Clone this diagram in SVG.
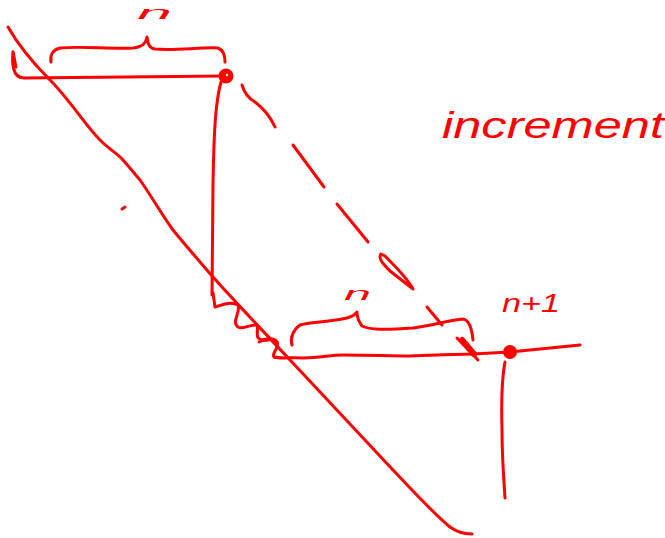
<svg xmlns="http://www.w3.org/2000/svg" width="665" height="538" viewBox="0 0 665 538">
<style>
.s{fill:none;stroke:#ff0000;stroke-width:3;stroke-linecap:round;stroke-linejoin:round}
.d{fill:#ff0000;stroke:none}
.t{fill:#ff0000;font-family:"Liberation Sans",Arial,sans-serif;font-style:italic}
</style>
<rect width="665" height="538" fill="#ffffff"/>
<g id="diagonal">
<path class="s" d="M8,27 C20,48 35,65 50,80 C70,100 85,125 100,140 C110,150 118,154 123,160 C130,168 135,174 140,180 C152,197 162,215 173,230 C186,246 200,262 213,277 C238,305 265,333 290,360 C325,397 360,435 393,470 C415,493 435,515 450,527 C458,533 465,534 472,534"/>
<path class="s" d="M122,209 L125,207"/>
</g>
<g id="top-segment">
<path class="s" d="M16,67 C14,58 13,50 13,52 C12,62 12,78 24,78 L224,76"/>
<circle class="d" cx="226" cy="76" r="7.5"/>
<circle cx="227" cy="75" r="1.2" fill="#ffffff"/>
<path class="s" d="M221,82 C216,100 214,125 213,185 L212,295"/>
<path class="s" d="M51,62 C50,56 52,50 60,48 C80,46 110,49 133,48 C142,47 146,44 147,37 C148,44 149,48 155,49 C175,51 200,47 218,48 C223,50 225,56 225,62"/>
<text class="t" x="137" y="19" font-size="18" textLength="35" lengthAdjust="spacingAndGlyphs">n</text>
</g>
<g id="dashed-connector">
<path class="s" d="M242,85 C244,92 248,98 255,102 C263,108 270,116 275,127"/>
<path class="s" d="M293,145 L324,187"/>
<path class="s" d="M337,204 L368,242"/>
<path class="s" d="M381,254 C378,258 382,263 390,271 L413,289 C410,283 400,271 385,256 Z"/>
<path class="s" d="M427,307 L442,325"/>
<path class="s" d="M457,338 L478,360"/>
<path class="s" d="M462,340 L474,354" style="stroke-width:6"/>
</g>
<g id="bottom-segment">
<path class="s" d="M213,293 L215,307 C222,305 230,301 238,305 C241,312 231,322 238,327 C244,330 250,324 257,325 C259,331 254,338 262,340 C268,342 273,336 277,342 C280,348 271,353 274,357 C280,359 292,357 303,358 C320,358 330,355 343,355 C370,355 390,356 410,356 C440,355 460,354 473,354 L510,352 L580,345"/>
<path class="s" d="M259,342 C266,338 272,337 277,342"/>
<circle class="d" cx="510" cy="352" r="7"/>
<path class="s" d="M505,362 C502,378 501,395 502,430 C502,460 504,480 505,498"/>
<path class="s" d="M292,345 C290,338 293,330 300,325 C308,322 330,322 347,318 C353,316 356,314 357,312 C357,318 359,322 362,326 C370,330 385,330 413,328 C430,326 450,320 463,319 C470,320 472,330 473,340"/>
<text class="t" x="344" y="300" font-size="18" textLength="27" lengthAdjust="spacingAndGlyphs">n</text>
<text class="t" x="502" y="312" font-size="25" textLength="58" lengthAdjust="spacingAndGlyphs">n+1</text>
</g>
<g id="label-increment">
<text class="t" x="442" y="138" font-size="37" textLength="222" lengthAdjust="spacingAndGlyphs">increment</text>
</g>
</svg>
